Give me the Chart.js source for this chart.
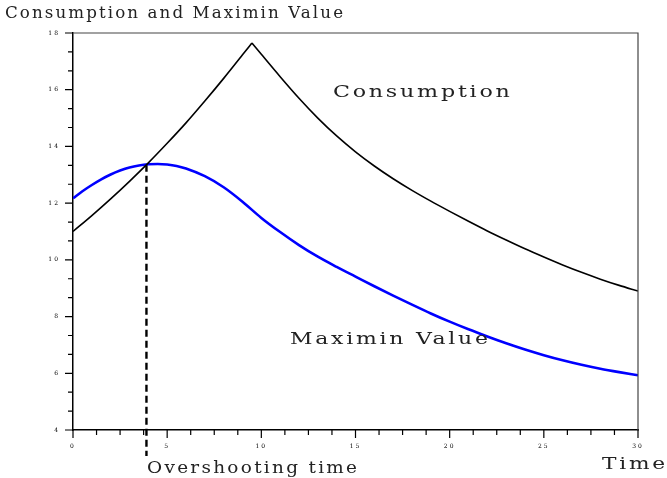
<!DOCTYPE html>
<html><head><meta charset="utf-8">
<script src="https://cdn.jsdelivr.net/npm/chart.js@4.4.1/dist/chart.umd.min.js"></script>
<style>html,body{margin:0;padding:0;background:#fff}</style>
</head><body>
<canvas id="c" width="667" height="478"></canvas>
<script>
// ---- data ----
const chartTitle = 'Consumption and Maximin Value';
const consumptionLabel = 'Consumption';
const maximinLabel = 'Maximin Value';
const overshootLabel = 'Overshooting time';
const xAxisLabel = 'Time';

const consumptionTime = [0,1,2,3,4,5,6,7,8,9,9.5,10,11,12,13,14,15,16,17,18,19,20,21,22,23,24,25,26,27,28,29,30];
const consumptionValue = [11.0,11.56,12.15,12.77,13.42,14.11,14.83,15.6,16.4,17.23,17.65,17.25,16.46,15.7,15.0,14.37,13.81,13.31,12.86,12.45,12.07,11.71,11.36,11.02,10.7,10.39,10.1,9.82,9.56,9.32,9.1,8.9];
const consumptionPeakTime = 9.5;

const maximinTime = [0,0.5,1,1.5,2,2.5,3,3.5,4,4.5,5,5.5,6,7,8,9,10,11,12,13,14,15,16,17,18,19,20,21,22,23,24,25,26,27,28,29,30];
const maximinValue = [12.17,12.42,12.64,12.84,13.01,13.15,13.26,13.33,13.37,13.38,13.36,13.31,13.22,12.95,12.56,12.05,11.48,10.98,10.52,10.11,9.75,9.41,9.07,8.74,8.42,8.11,7.82,7.55,7.3,7.06,6.84,6.64,6.46,6.3,6.16,6.04,5.93];

const overshootTime = [3.9, 3.9];
const overshootValue = [13.35, 3.08];

const xMajorTicks = [0,5,10,15,20,25,30];
const yMajorTicks = [4,6,8,10,12,14,16,18];
const xMinorDivisions = 4;
const yMinorDivisions = 3;

// annotation anchors (data coordinates)
const consumptionLabelAt = [13.8, 15.74];
const maximinLabelAt = [11.52, 7.03];
const overshootLabelAt = [3.93, 2.49];
const timeLabelAt = [28.09, 2.63];

// ---- helpers ----
function subdivide(majors, n){
  const out=[];
  for(let i=0;i<majors.length-1;i++){
    for(let k=0;k<n;k++) out.push(majors[i]+(majors[i+1]-majors[i])*k/n);
  }
  out.push(majors[majors.length-1]);
  return out;
}
function isMajor(v, majors){ return majors.some(m=>Math.abs(m-v)<1e-6); }
function zip(xs, ys){ return xs.map((x,i)=>({x:x,y:ys[i]})); }

const SERIF = '"DejaVu Serif", "Liberation Serif", serif';

function wideText(ctx, text, x, y, font, width, color){
  ctx.save();
  ctx.font = font;
  ctx.letterSpacing = '2px';
  const w = ctx.measureText(text).width - 2;
  const sx = width / w;
  ctx.translate(x, y);
  ctx.scale(sx, 1);
  ctx.fillStyle = color;
  ctx.textAlign = 'left';
  ctx.textBaseline = 'alphabetic';
  ctx.fillText(text, 0, 0);
  ctx.restore();
}

const decorPlugin = {
  id: 'decor',
  beforeDraw(chart){ chart.ctx.letterSpacing = '2px'; },
  beforeDatasetsDraw(chart){ chart.ctx.letterSpacing = '0px'; },
  afterDraw(chart){
    const ctx = chart.ctx, a = chart.chartArea;
    const xs = chart.scales.x, ys = chart.scales.y;
    ctx.save();
    ctx.letterSpacing = '0px';
    ctx.strokeStyle = '#444';
    ctx.lineWidth = 1.2;
    ctx.beginPath();
    ctx.moveTo(a.left, a.top); ctx.lineTo(a.right, a.top); ctx.lineTo(a.right, a.bottom);
    ctx.stroke();
    ctx.strokeStyle = '#000';
    ctx.lineWidth = 1.2;
    ctx.beginPath();
    xs.ticks.forEach(t=>{
      const px = xs.getPixelForValue(t.value);
      const len = isMajor(t.value, xMajorTicks) ? 8 : 5;
      ctx.moveTo(px, a.bottom); ctx.lineTo(px, a.bottom+len);
    });
    ys.ticks.forEach(t=>{
      const py = ys.getPixelForValue(t.value);
      const len = isMajor(t.value, yMajorTicks) ? 8 : 5;
      ctx.moveTo(a.left, py); ctx.lineTo(a.left-len, py);
    });
    ctx.stroke();
    ctx.restore();
    const font = '16px ' + SERIF;
    wideText(ctx, chartTitle, 5, 18, font, 338, '#222');
    wideText(ctx, consumptionLabel, xs.getPixelForValue(consumptionLabelAt[0]), ys.getPixelForValue(consumptionLabelAt[1]), font, 177, '#222');
    wideText(ctx, maximinLabel, xs.getPixelForValue(maximinLabelAt[0]), ys.getPixelForValue(maximinLabelAt[1]), font, 198, '#222');
    wideText(ctx, overshootLabel, xs.getPixelForValue(overshootLabelAt[0]), ys.getPixelForValue(overshootLabelAt[1]), font, 210, '#222');
    wideText(ctx, xAxisLabel, xs.getPixelForValue(timeLabelAt[0]), ys.getPixelForValue(timeLabelAt[1]), font, 63, '#222');
  }
};

const peakIdx = consumptionTime.indexOf(consumptionPeakTime);
const consumptionPoints = zip(consumptionTime, consumptionValue);

new Chart(document.getElementById('c'), {
  type: 'line',
  data: {
    datasets: [
      { label: consumptionLabel, data: consumptionPoints.slice(0, peakIdx+1), borderColor: '#000', borderWidth: 1.6, pointRadius: 0, cubicInterpolationMode: 'monotone', fill: false },
      { label: consumptionLabel, data: consumptionPoints.slice(peakIdx), borderColor: '#000', borderWidth: 1.6, pointRadius: 0, cubicInterpolationMode: 'monotone', fill: false },
      { label: maximinLabel, data: zip(maximinTime, maximinValue), borderColor: '#0000ff', borderWidth: 2.6, pointRadius: 0, cubicInterpolationMode: 'monotone', fill: false },
      { label: overshootLabel, data: zip(overshootTime, overshootValue), borderColor: '#000', borderWidth: 2.4, borderDash: [7,4], pointRadius: 0, tension: 0, fill: false, clip: false }
    ]
  },
  options: {
    responsive: false,
    animation: false,
    events: [],
    layout: { padding: { top: 33, right: 29, left: 0, bottom: 0 } },
    plugins: { legend: { display: false }, title: { display: false }, tooltip: { enabled: false } },
    scales: {
      x: {
        type: 'linear', min: 0, max: 30,
        afterBuildTicks: s => { s.ticks = subdivide(xMajorTicks, xMinorDivisions).map(v=>({value:v})); },
        afterFit: s => { s.height = 48; },
        grid: { display: true, drawOnChartArea: false, drawTicks: true, tickLength: 8, tickColor: 'rgba(0,0,0,0)' },
        border: { display: true, color: '#000', width: 1.5 },
        ticks: { autoSkip: false, maxRotation: 0, padding: 5, color: '#000',
          font: { family: SERIF, size: 6 },
          callback: v => isMajor(v, xMajorTicks) ? String(Math.round(v)) : '' }
      },
      y: {
        type: 'linear', min: 4, max: 18,
        afterBuildTicks: s => { s.ticks = subdivide(yMajorTicks, yMinorDivisions).map(v=>({value:v})); },
        afterFit: s => { s.width = 73; },
        grid: { display: true, drawOnChartArea: false, drawTicks: true, tickLength: 8, tickColor: 'rgba(0,0,0,0)' },
        border: { display: true, color: '#000', width: 1.5 },
        ticks: { autoSkip: false, padding: 5, color: '#000',
          font: { family: SERIF, size: 6 },
          callback: v => isMajor(v, yMajorTicks) ? String(Math.round(v)) : '' }
      }
    }
  },
  plugins: [decorPlugin]
});
</script>
</body></html>
